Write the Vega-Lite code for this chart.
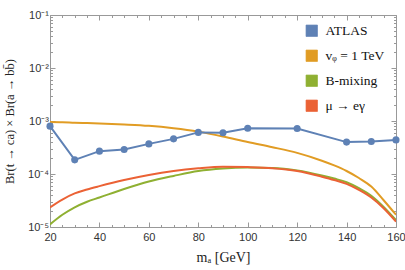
{
  "$schema": "https://vega.github.io/schema/vega-lite/v6.json",
  "autosize": "none",
  "width": 346,
  "height": 212,
  "padding": {"left": 50, "top": 15, "right": 9, "bottom": 43},
  "background": "white",
  "config": {
    "view": {"stroke": "#999999", "strokeWidth": 1},
    "axis": {"domain": false, "grid": false, "tickColor": "#999999", "labelColor": "#333333", "labelFont": "Liberation Sans", "labelFontSize": 11, "titleFont": "Liberation Serif", "titleFontWeight": "normal", "titleFontSize": 13, "titleColor": "#222222"}
  },
  "datasets": {
    "atlas": [
      {"series": "ATLAS", "x": 20, "y": 0.00080},
      {"series": "ATLAS", "x": 30, "y": 0.000185},
      {"series": "ATLAS", "x": 40, "y": 0.00027},
      {"series": "ATLAS", "x": 50, "y": 0.00029},
      {"series": "ATLAS", "x": 60, "y": 0.00037},
      {"series": "ATLAS", "x": 70, "y": 0.00046},
      {"series": "ATLAS", "x": 80, "y": 0.00061},
      {"series": "ATLAS", "x": 90, "y": 0.00060},
      {"series": "ATLAS", "x": 100, "y": 0.00073},
      {"series": "ATLAS", "x": 120, "y": 0.00072},
      {"series": "ATLAS", "x": 140, "y": 0.00040},
      {"series": "ATLAS", "x": 150, "y": 0.00041},
      {"series": "ATLAS", "x": 160, "y": 0.00044}
    ],
    "curves": [
      {"series": "vᵩ = 1 TeV", "x": 20, "y": 0.00096},
      {"series": "vᵩ = 1 TeV", "x": 25, "y": 0.00095},
      {"series": "vᵩ = 1 TeV", "x": 30, "y": 0.00093},
      {"series": "vᵩ = 1 TeV", "x": 35, "y": 0.000915},
      {"series": "vᵩ = 1 TeV", "x": 40, "y": 0.00090},
      {"series": "vᵩ = 1 TeV", "x": 50, "y": 0.00086},
      {"series": "vᵩ = 1 TeV", "x": 60, "y": 0.00081},
      {"series": "vᵩ = 1 TeV", "x": 70, "y": 0.00073},
      {"series": "vᵩ = 1 TeV", "x": 80, "y": 0.00063},
      {"series": "vᵩ = 1 TeV", "x": 90, "y": 0.00051},
      {"series": "vᵩ = 1 TeV", "x": 100, "y": 0.00040},
      {"series": "vᵩ = 1 TeV", "x": 110, "y": 0.00032},
      {"series": "vᵩ = 1 TeV", "x": 120, "y": 0.00025},
      {"series": "vᵩ = 1 TeV", "x": 130, "y": 0.000178},
      {"series": "vᵩ = 1 TeV", "x": 135, "y": 0.000145},
      {"series": "vᵩ = 1 TeV", "x": 140, "y": 0.000114},
      {"series": "vᵩ = 1 TeV", "x": 145, "y": 0.000084},
      {"series": "vᵩ = 1 TeV", "x": 150, "y": 0.000058},
      {"series": "vᵩ = 1 TeV", "x": 155, "y": 0.000032},
      {"series": "vᵩ = 1 TeV", "x": 160, "y": 0.000017},
      {"series": "B-mixing", "x": 20, "y": 0.0000112},
      {"series": "B-mixing", "x": 25, "y": 0.000017},
      {"series": "B-mixing", "x": 30, "y": 0.0000235},
      {"series": "B-mixing", "x": 35, "y": 0.000030},
      {"series": "B-mixing", "x": 40, "y": 0.000036},
      {"series": "B-mixing", "x": 50, "y": 0.000052},
      {"series": "B-mixing", "x": 60, "y": 0.000072},
      {"series": "B-mixing", "x": 70, "y": 0.000092},
      {"series": "B-mixing", "x": 80, "y": 0.000114},
      {"series": "B-mixing", "x": 90, "y": 0.000127},
      {"series": "B-mixing", "x": 100, "y": 0.000132},
      {"series": "B-mixing", "x": 110, "y": 0.000130},
      {"series": "B-mixing", "x": 120, "y": 0.000117},
      {"series": "B-mixing", "x": 130, "y": 0.000094},
      {"series": "B-mixing", "x": 135, "y": 0.000082},
      {"series": "B-mixing", "x": 140, "y": 0.000070},
      {"series": "B-mixing", "x": 145, "y": 0.000054},
      {"series": "B-mixing", "x": 150, "y": 0.000039},
      {"series": "B-mixing", "x": 155, "y": 0.000024},
      {"series": "B-mixing", "x": 160, "y": 0.0000135},
      {"series": "μ → eγ", "x": 20, "y": 0.0000235},
      {"series": "μ → eγ", "x": 25, "y": 0.000033},
      {"series": "μ → eγ", "x": 30, "y": 0.000043},
      {"series": "μ → eγ", "x": 35, "y": 0.000051},
      {"series": "μ → eγ", "x": 40, "y": 0.000059},
      {"series": "μ → eγ", "x": 50, "y": 0.000077},
      {"series": "μ → eγ", "x": 60, "y": 0.000096},
      {"series": "μ → eγ", "x": 70, "y": 0.000114},
      {"series": "μ → eγ", "x": 80, "y": 0.000128},
      {"series": "μ → eγ", "x": 90, "y": 0.000137},
      {"series": "μ → eγ", "x": 100, "y": 0.000135},
      {"series": "μ → eγ", "x": 110, "y": 0.000129},
      {"series": "μ → eγ", "x": 120, "y": 0.000114},
      {"series": "μ → eγ", "x": 130, "y": 0.000089},
      {"series": "μ → eγ", "x": 135, "y": 0.000077},
      {"series": "μ → eγ", "x": 140, "y": 0.000065},
      {"series": "μ → eγ", "x": 145, "y": 0.000050},
      {"series": "μ → eγ", "x": 150, "y": 0.000036},
      {"series": "μ → eγ", "x": 155, "y": 0.0000225},
      {"series": "μ → eγ", "x": 160, "y": 0.0000126}
    ]
  },
  "resolve": {"axis": {"x": "independent", "y": "independent"}},
  "layer": [
    {
      "data": {"name": "curves"},
      "mark": {"type": "line", "strokeWidth": 2, "interpolate": "monotone", "clip": true},
      "encoding": {
        "x": {"field": "x", "type": "quantitative", "scale": {"domain": [20, 160], "nice": false},
          "axis": {"orient": "bottom", "title": "mₐ  [GeV]", "titlePadding": 8, "titleFontSize": 14,
            "values": [20,25,30,35,40,45,50,55,60,65,70,75,80,85,90,95,100,105,110,115,120,125,130,135,140,145,150,155,160],
            "labelExpr": "datum.value % 20 === 0 ? datum.label : ''",
            "tickSize": {"condition": {"test": "datum.value % 20 === 0", "value": -5}, "value": -2.5},
            "labelPadding": 9, "labelFlush": false}},
        "y": {"field": "y", "type": "quantitative", "scale": {"type": "log", "domain": [0.00001, 0.1], "nice": false},
          "axis": {"orient": "left", "title": "Br(t → ca) × Br(a → bb̄)", "titlePadding": 11, "titleFontSize": 12.5,
            "values": [0.00001,0.00002,0.00003,0.00004,0.00005,0.00006,0.00007,0.00008,0.00009,0.0001,0.0002,0.0003,0.0004,0.0005,0.0006,0.0007,0.0008,0.0009,0.001,0.002,0.003,0.004,0.005,0.006,0.007,0.008,0.009,0.01,0.02,0.03,0.04,0.05,0.06,0.07,0.08,0.09,0.1],
            "labelExpr": "abs(log(datum.value)/LN10 - round(log(datum.value)/LN10)) < 0.001 ? '10⁻' + ['⁰','¹','²','³','⁴','⁵'][-round(log(datum.value)/LN10)] : ''",
            "tickSize": {"condition": {"test": "abs(log(datum.value)/LN10 - round(log(datum.value)/LN10)) < 0.001", "value": -5}, "value": -2.5},
            "labelPadding": 6.5}},
        "color": {"field": "series", "type": "nominal",
          "scale": {"domain": ["ATLAS", "vᵩ = 1 TeV", "B-mixing", "μ → eγ"], "range": ["#5E81B5", "#E19C24", "#8FB032", "#EB6235"]},
          "legend": {"orient": "none", "legendX": 255, "legendY": 9, "title": null, "symbolType": "square", "symbolSize": 130,
            "labelFont": "Liberation Serif", "labelFontSize": 13.5, "labelColor": "#111111", "rowPadding": 10, "labelOffset": 7,
            "symbolStrokeColor": "#555555", "symbolStrokeWidth": 0.7,
            "encode": {"symbols": {"update": {"fill": {"scale": "color", "field": "value"}, "fillOpacity": {"value": 1}}}}}}
      }
    },
    {
      "data": {"name": "atlas"},
      "mark": {"type": "line", "strokeWidth": 2, "point": {"size": 50, "filled": true, "opacity": 1}},
      "encoding": {
        "x": {"field": "x", "type": "quantitative", "axis": {"orient": "top", "labels": false, "title": null,
            "values": [20,25,30,35,40,45,50,55,60,65,70,75,80,85,90,95,100,105,110,115,120,125,130,135,140,145,150,155,160],
            "tickSize": {"condition": {"test": "datum.value % 20 === 0", "value": -5}, "value": -2.5}}},
        "y": {"field": "y", "type": "quantitative", "axis": {"orient": "right", "labels": false, "title": null,
            "values": [0.00001,0.00002,0.00003,0.00004,0.00005,0.00006,0.00007,0.00008,0.00009,0.0001,0.0002,0.0003,0.0004,0.0005,0.0006,0.0007,0.0008,0.0009,0.001,0.002,0.003,0.004,0.005,0.006,0.007,0.008,0.009,0.01,0.02,0.03,0.04,0.05,0.06,0.07,0.08,0.09,0.1],
            "tickSize": {"condition": {"test": "abs(log(datum.value)/LN10 - round(log(datum.value)/LN10)) < 0.001", "value": -5}, "value": -2.5}}},
        "color": {"field": "series", "type": "nominal"}
      }
    }
  ]
}
